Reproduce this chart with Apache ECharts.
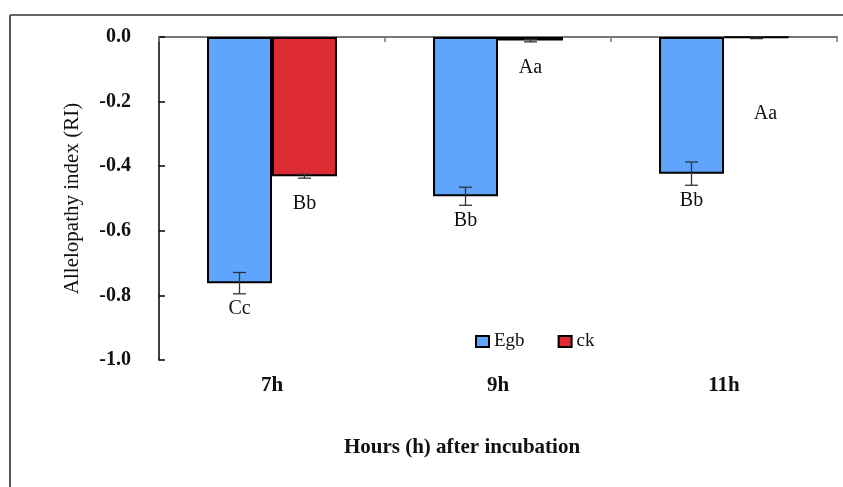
<!DOCTYPE html>
<html>
<head>
<meta charset="utf-8">
<script src="https://cdn.jsdelivr.net/npm/echarts@6/dist/echarts.min.js"></script>
<style>
  html, body { margin: 0; padding: 0; background: #fff; }
  #main { width: 843px; height: 487px; }
</style>
</head>
<body>
<div id="main"></div>
<script>
// 数据
const categories = ['7h', '9h', '11h'];
const seriesNames = ['Egb', 'ck'];
const egbValues = [-0.762, -0.493, -0.423];
const ckValues = [-0.431, -0.011, -0.002];
const egbErr = [0.033, 0.028, 0.036];
const ckErr = [0.006, 0.004, 0.003];
const egbLetters = ['Cc', 'Bb', 'Bb'];
const ckLetters = ['Bb', 'Aa', 'Aa'];

const serif = 'Liberation Serif';
const barGapFrac = 0.425;

// 误差线 + 字母标注
const errorSeries = (values, errs, letters, side, gap) => ({
  type: 'custom',
  xAxisIndex: 0,
  z: 5,
  silent: true,
  data: values.map((v, i) => [i, v, errs[i], letters[i]]),
  renderItem: (params, api) => {
    const i = api.value(0), v = api.value(1), e = api.value(2);
    const catW = api.size([1, 0])[0];
    const barW = catW * (1 - barGapFrac) / 2;
    const cx = api.coord([i, 0])[0] + side * barW / 2;
    const yTop = api.coord([i, v + e])[1];
    const yBot = api.coord([i, v - e])[1];
    const cap = 6.5;
    const lineStyle = { stroke: '#333', lineWidth: 1.3 };
    // 11h ck 的字母位置较低
    let extra = 0, dx = 0;
    if (side > 0 && i === 2) { extra = 49; dx = 9; }
    return {
      type: 'group',
      children: [
        { type: 'line', shape: { x1: cx, y1: yTop, x2: cx, y2: yBot }, style: lineStyle },
        { type: 'line', shape: { x1: cx - cap, y1: yTop, x2: cx + cap, y2: yTop }, style: lineStyle },
        { type: 'line', shape: { x1: cx - cap, y1: yBot, x2: cx + cap, y2: yBot }, style: lineStyle },
        {
          type: 'text',
          style: {
            x: cx + dx, y: yBot + gap + extra,
            text: api.value(3),
            font: '20px "' + serif + '"',
            fill: '#111',
            align: 'center',
            verticalAlign: 'top'
          }
        }
      ]
    };
  }
});

const chart = echarts.init(document.getElementById('main'));
chart.setOption({
  animation: false,
  backgroundColor: '#fff',
  textStyle: { fontFamily: serif },
  grid: { left: 159, right: 6, top: 37, bottom: 127 },
  legend: {
    data: seriesNames,
    icon: 'rect',
    left: 470,
    top: 327,
    itemWidth: 13,
    itemHeight: 11,
    itemGap: 33,
    textStyle: { fontFamily: serif, fontSize: 19, color: '#111' }
  },
  graphic: [
    { type: 'line', shape: { x1: 10, y1: 15, x2: 843, y2: 15 }, style: { stroke: '#333', lineWidth: 1.5 } },
    { type: 'line', shape: { x1: 10, y1: 15, x2: 10, y2: 487 }, style: { stroke: '#555', lineWidth: 2 } }
  ],
  xAxis: [
    {
      type: 'category',
      position: 'bottom',
      data: categories,
      axisLine: { show: false, onZero: false },
      axisTick: { show: false },
      axisLabel: { margin: 15, fontFamily: serif, fontSize: 21, fontWeight: 'bold', color: '#111' },
      name: 'Hours (h) after incubation',
      nameLocation: 'middle',
      nameGap: 77,
      nameTextStyle: { fontFamily: serif, fontSize: 21, fontWeight: 'bold', color: '#111', padding: [0, 72, 0, 0] }
    },
    {
      type: 'category',
      position: 'top',
      data: categories,
      axisLine: { show: true, lineStyle: { color: '#777', width: 2 } },
      axisTick: { show: true, inside: true, length: 5, lineStyle: { color: '#777', width: 1.5 } },
      axisLabel: { show: false }
    }
  ],
  yAxis: {
    type: 'value',
    min: -1,
    max: 0,
    interval: 0.2,
    axisLine: { show: true, lineStyle: { color: '#000', width: 1.5 } },
    axisTick: { show: true, inside: true, length: 6, lineStyle: { color: '#000', width: 1.5 } },
    splitLine: { show: false },
    axisLabel: {
      margin: 28,
      fontFamily: serif,
      fontSize: 20,
      fontWeight: 'bold',
      color: '#111',
      formatter: v => v.toFixed(1)
    },
    name: 'Allelopathy index (RI)',
    nameLocation: 'middle',
    nameRotate: 90,
    nameGap: 76,
    nameTextStyle: { fontFamily: serif, fontSize: 21, color: '#111' }
  },
  series: [
    {
      name: 'Egb',
      type: 'bar',
      xAxisIndex: 0,
      data: egbValues,
      barGap: '0%',
      barCategoryGap: (barGapFrac * 100) + '%',
      itemStyle: { color: '#5FA5FD', borderColor: '#000', borderWidth: 2 }
    },
    {
      name: 'ck',
      type: 'bar',
      xAxisIndex: 0,
      data: ckValues,
      itemStyle: { color: '#DD2B33', borderColor: '#000', borderWidth: 2 }
    },
    errorSeries(egbValues, egbErr, egbLetters, -1, 5),
    errorSeries(ckValues, ckErr, ckLetters, 1, 16)
  ]
});
</script>
</body>
</html>
